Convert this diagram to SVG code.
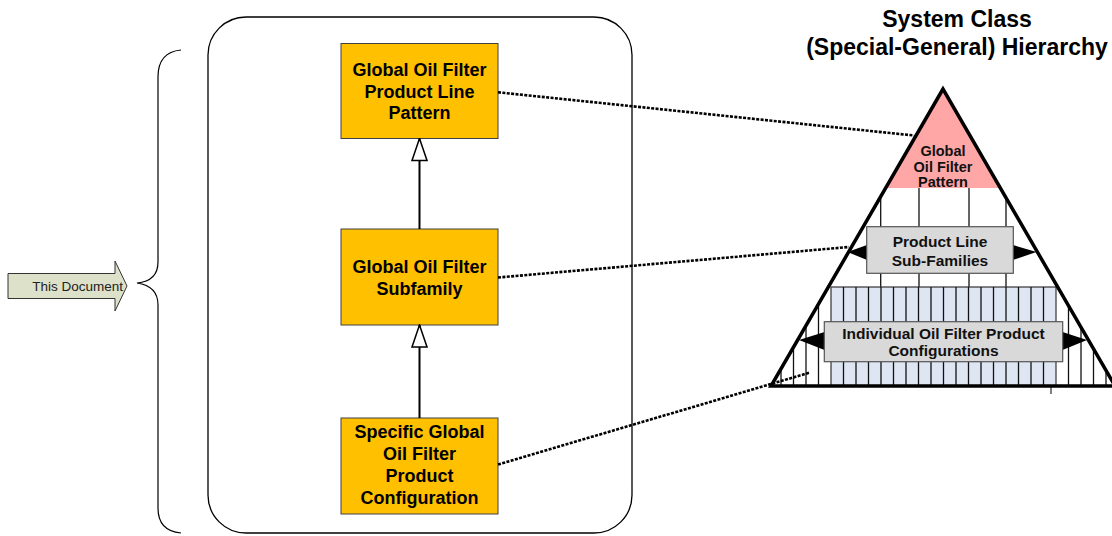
<svg xmlns="http://www.w3.org/2000/svg" width="1112" height="536" viewBox="0 0 1112 536">
<style>
.box{fill:#ffc000;stroke:#404040;stroke-width:1}
.bt{font-family:"Liberation Sans",Arial,sans-serif;font-weight:bold;font-size:18px;text-anchor:middle;fill:#000}
.tt{font-family:"Liberation Sans",Arial,sans-serif;font-weight:bold;font-size:15.5px;text-anchor:middle;fill:#111}
.title{font-family:"Liberation Sans",Arial,sans-serif;font-weight:bold;font-size:23px;text-anchor:middle;fill:#000}
.dash{fill:none;stroke:#000;stroke-width:2.6;stroke-dasharray:3 1.4}
.gen{fill:none;stroke:#000;stroke-width:2}
.col{stroke:#111;stroke-width:1.3}
.gray{fill:#d9d9d9;stroke:#555;stroke-width:1.2}
</style>
<defs>
<marker id="hollow" markerUnits="userSpaceOnUse" viewBox="0 0 24 17" markerWidth="24" markerHeight="17" refX="23" refY="8.5" orient="auto">
<path d="M1,1 L23,8.5 L1,16 Z" fill="#fff" stroke="#000" stroke-width="1.5"/>
</marker>
<clipPath id="tri"><polygon points="943,89 771,386 1115,386"/></clipPath>
</defs>
<rect width="1112" height="536" fill="#fff"/>

<g id="title">
<text class="title" x="957" y="27">System Class</text>
<text class="title" x="957" y="55">(Special-General) Hierarchy</text>
</g>

<g id="this-document">
<polygon points="8,273.5 115,273.5 115,261 127,286 115,311 115,298.5 8,298.5" fill="#dde1c9" stroke="#333" stroke-width="1"/>
<text x="123" y="291" font-family="'Liberation Sans',Arial,sans-serif" font-size="13.5" text-anchor="end" fill="#222">This Document</text>
</g>

<g id="brace">
<path d="M181,50 Q158,52 158,77 L158,262 Q158,281 137,283 Q158,286 158,305 L158,508 Q158,531 181,533" fill="none" stroke="#000" stroke-width="1.2"/>
</g>

<g id="container">
<rect x="208" y="17" width="424" height="516" rx="38" ry="38" fill="none" stroke="#000" stroke-width="1.3"/>
</g>

<g id="pattern">
<rect class="box" x="341" y="43.5" width="157" height="95"/>
<text class="bt" x="419.5" y="76">Global Oil Filter</text>
<text class="bt" x="419.5" y="97.5">Product Line</text>
<text class="bt" x="419.5" y="119">Pattern</text>
</g>

<g id="subfamily">
<rect class="box" x="341" y="229" width="157" height="96"/>
<text class="bt" x="419.5" y="272.5">Global Oil Filter</text>
<text class="bt" x="419.5" y="294.5">Subfamily</text>
</g>

<g id="configuration">
<rect class="box" x="341" y="418" width="157" height="96"/>
<text class="bt" x="419.5" y="438">Specific Global</text>
<text class="bt" x="419.5" y="460">Oil Filter</text>
<text class="bt" x="419.5" y="482">Product</text>
<text class="bt" x="419.5" y="504">Configuration</text>
</g>

<g id="hierarchy">
<polygon points="943,89 885.7,188 1000.3,188" fill="#ffa6a6"/>
<g clip-path="url(#tri)">
<line class="col" x1="880.7" y1="188" x2="880.7" y2="287"/>
<line class="col" x1="919" y1="188" x2="919" y2="287"/>
<line class="col" x1="969" y1="188" x2="969" y2="287"/>
<line class="col" x1="1006" y1="188" x2="1006" y2="287"/>
<rect x="831" y="287" width="225" height="99" fill="#dde6f2" stroke="#333" stroke-width="1.2"/>
<path class="col" d="M781,287V386M793.5,287V386M806,287V386M818.5,287V386M843.5,287V386M856,287V386M868.5,287V386M881,287V386M893.5,287V386M906,287V386M918.5,287V386M931,287V386M943.5,287V386M956,287V386M968.5,287V386M981,287V386M993.5,287V386M1006,287V386M1018.5,287V386M1031,287V386M1043.5,287V386M1068.5,287V386M1081,287V386M1093.5,287V386M1106,287V386"/>
</g>
<polygon points="943,89 771,386 1115,386" fill="none" stroke="#000" stroke-width="3.5" stroke-linejoin="miter"/>
<line x1="1051" y1="386" x2="1051" y2="394" stroke="#000" stroke-width="1"/>
<polygon points="867,245 847.5,252 867,260" fill="#000"/>
<polygon points="1013,245 1036.5,252 1013,260" fill="#000"/>
<polygon points="824.5,332 799,340 824.5,350" fill="#000"/>
<polygon points="1062.5,332 1087,340 1062.5,350" fill="#000"/>
<text class="tt" x="943" y="155.5" style="font-size:14.5px">Global</text>
<text class="tt" x="943" y="171.5" style="font-size:14.5px">Oil Filter</text>
<text class="tt" x="943" y="187" style="font-size:14.5px">Pattern</text>
<rect class="gray" x="866.7" y="226.7" width="146.6" height="46.6"/>
<text class="tt" x="940" y="246.5">Product Line</text>
<text class="tt" x="940" y="265.5">Sub-Families</text>
<rect class="gray" x="824.3" y="321.7" width="238.4" height="40"/>
<text class="tt" x="943.5" y="338.5">Individual Oil Filter Product</text>
<text class="tt" x="943.5" y="355.5">Configurations</text>
</g>

<g id="connectors">
<line class="gen" x1="419.5" y1="229" x2="419.5" y2="138.5" marker-end="url(#hollow)"/>
<line class="gen" x1="419.5" y1="418" x2="419.5" y2="325" marker-end="url(#hollow)"/>
<line class="dash" x1="498" y1="92.3" x2="914" y2="135.5"/>
<line class="dash" x1="498" y1="277.5" x2="849" y2="247"/>
<line class="dash" x1="498" y1="464.5" x2="810" y2="372.5"/>
</g>
</svg>
